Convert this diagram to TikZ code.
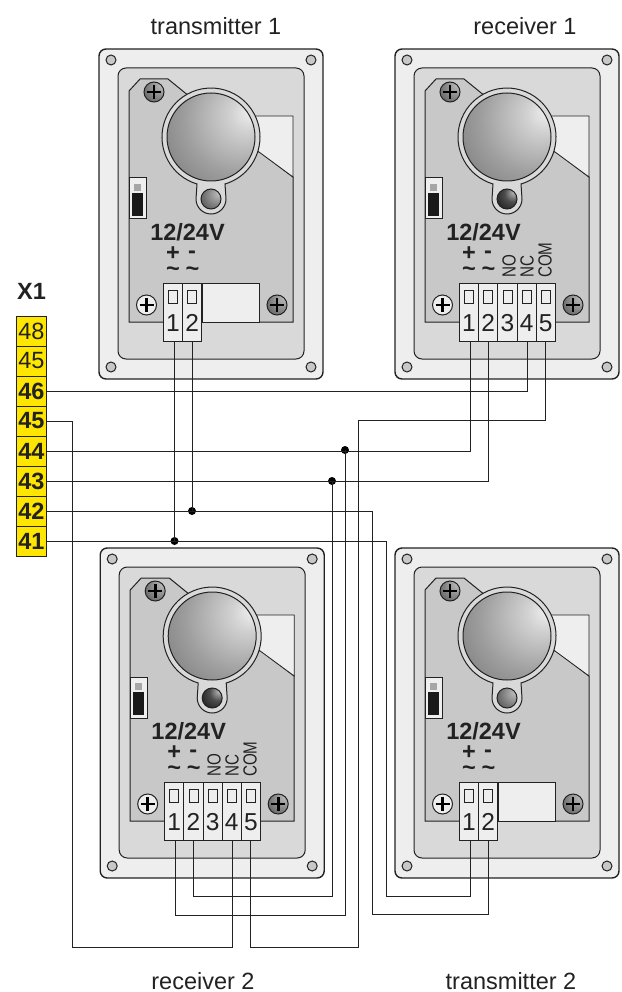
\documentclass[tikz,border=0pt]{standalone}
\usepackage{fontspec}
\setmainfont{Liberation Sans}
\pgfdeclareradialshading{domeball}{\pgfpoint{24bp}{15bp}}{color(0bp)=(white!95!black); color(10bp)=(white!82!black); color(30bp)=(white!62!black); color(50bp)=(white!46!black); color(80bp)=(white!28!black)}
\pgfdeclareradialshading{lensball}{\pgfpoint{20bp}{15bp}}{color(0bp)=(white!75!black); color(30bp)=(white!45!black); color(55bp)=(white!25!black); color(80bp)=(white!15!black)}
\pgfdeclareradialshading{lensdark}{\pgfpoint{18bp}{18bp}}{color(0bp)=(white!75!black); color(20bp)=(white!30!black); color(45bp)=(white!10!black); color(80bp)=(black)}
\pgfdeclareradialshading{screwball}{\pgfpoint{20bp}{20bp}}{color(0bp)=(white!75!black); color(35bp)=(white!45!black); color(80bp)=(white!15!black)}
\definecolor{ink}{HTML}{222222}
\definecolor{casecol}{HTML}{EEEEEE}
\definecolor{innercol}{HTML}{D9D9D9}
\definecolor{panelcol}{HTML}{C8C8C8}
\definecolor{rowcol}{HTML}{FFE600}
\tikzset{
  shell/.style={draw=ink,line width=1.4pt,rounded corners=7pt},
  thin line/.style={draw=ink,line width=1pt},
  wire/.style={draw=ink,line width=1pt},
  cell/.style={draw=ink,line width=1pt,fill=casecol,minimum width=19.2pt,minimum height=58pt,inner sep=0pt},
  txt/.style={inner sep=0pt,text=ink,font=\fontsize{23.5}{26}\selectfont},
  btxt/.style={inner sep=0pt,text=ink,font=\fontsize{23.5}{26}\selectfont\bfseries},
  small/.style={inner sep=0pt,text=ink,rotate=90,anchor=west,xscale=0.8,transform shape,font=\fontsize{19}{20}\selectfont},
  rowcell/.style={draw=ink,line width=1pt,fill=rowcol,minimum width=30pt,minimum height=30pt,inner sep=0pt,text=ink,font=\fontsize{23.5}{26}\selectfont},
  dotnode/.style={circle,fill=black,minimum size=8pt,inner sep=0pt},
}
% #1 name, #2 dx, #3 dy, #4 last terminal, #5 lens shading
\newcommand{\unitbody}[5]{%
\begin{scope}[shift={(#2,#3)}]
  \draw[shell,fill=casecol] (99,49) rectangle (323,379);
  \draw[thin line,fill=innercol,rounded corners=8pt] (118,68) rectangle (304,359);
  \foreach \hx/\hy in {111/60,311/60,111/367,311/367}
    \draw[thin line,fill=panelcol] (\hx,\hy) circle (5);
  \draw[thin line,fill=panelcol] (129,91) -- (140,79) -- (168,79) -- (200,105) -- (240,150) -- (260,152) -- (293,177) -- (293,322) -- (129,322) -- cycle;
  \draw[draw=ink,line width=0.8pt,fill=casecol] (240,116) -- (293,116) -- (293,177) -- (240,138) -- cycle;
  \draw[thin line,fill=innercol] (197,184) arc[start angle=106.6,end angle=433.4,radius=49] -- (226,199) arc[start angle=0,end angle=180,radius=15] -- cycle;
  \shade[shading=domeball] (211,137) circle (44);
  \draw[thin line] (211,137) circle (44);
  \shade[shading=#5] (211,199) circle (10);
  \draw[thin line] (211,199) circle (10);
  % top screw
  \shade[shading=screwball] (154,92) circle (10);
  \draw[thin line] (154,92) circle (10);
  \draw[line width=2.6pt,draw=black] (147,92) -- (161,92) (154,85) -- (154,99);
  % left screw
  \draw[thin line,fill=casecol] (146.5,305) circle (10);
  \draw[line width=2.6pt,draw=black] (139.5,305) -- (153.5,305) (146.5,298) -- (146.5,312);
  % right screw
  \shade[shading=screwball] (277,305) circle (10);
  \draw[thin line] (277,305) circle (10);
  \draw[line width=2.6pt,draw=black] (270,305) -- (284,305) (277,298) -- (277,312);
  % switch
  \draw[draw=ink,line width=1pt,fill=casecol] (129,178) rectangle (146,219);
  \fill[black!90] (132,193) rectangle (143,216);
  \fill[black!35] (134,184) rectangle (141,191);
  % labels
  \node[btxt] (#1-volt) at (187.5,232) {12/24V};
  \node[btxt] (#1-plus) at (173,254) {+};
  \node[btxt] (#1-minus) at (192,255) {-};
  \node[btxt] (#1-ta) at (173,272) {\textasciitilde};
  \node[btxt] (#1-tb) at (192.5,272) {\textasciitilde};
  % terminals
  \foreach \i in {1,...,#4} {
    \node[cell] (#1-cell\i) at ({163.4+19.2*(\i-0.5)},312.5) {};
    \draw[draw=ink,line width=0.8pt,fill=casecol] ({163.4+19.2*(\i-0.5)-4.5},290) rectangle ({163.4+19.2*(\i-0.5)+4.5},303);
    \node[txt,font=\fontsize{24.5}{26}\selectfont] (#1-num\i) at ({163.4+19.2*(\i-0.5)},323) {\i};
  }
  \coordinate (#1-p1) at (174.5,341);
  \coordinate (#1-p2) at (192,341);
  \coordinate (#1-p4) at (231.7,341);
  \coordinate (#1-p5) at (249,341);
\end{scope}}
\newcommand{\txextra}[3]{%
\begin{scope}[shift={(#2,#3)}]
  \draw[draw=ink,line width=1pt,fill=casecol] (#1-cell2.north east) rectangle (259,322);
\end{scope}}
\newcommand{\rxlabels}[3]{%
\begin{scope}[shift={(#2,#3)}]
  \node[small] (#1-no) at (213,278) {NO};
  \node[small] (#1-nc) at (231,278) {NC};
  \node[small] (#1-com) at (249,278) {COM};
\end{scope}}
\begin{document}
\begin{tikzpicture}[x=1pt,y=-1pt]
\useasboundingbox (0,0) rectangle (621,992);
\unitbody{txa}{0}{0}{2}{lensball}
\txextra{txa}{0}{0}
\unitbody{rxa}{296}{0}{5}{lensdark}
\rxlabels{rxa}{296}{0}
\unitbody{rxb}{1.2}{499}{5}{lensdark}
\rxlabels{rxb}{1.2}{499}
\unitbody{txb}{296}{499}{2}{lensball}
\txextra{txb}{296}{499}
\node[txt] (ltxa) at (216,26) {transmitter 1};
\node[txt] (lrxa) at (525,26) {receiver 1};
\node[txt] (lrxb) at (203,981) {receiver 2};
\node[txt] (ltxb) at (511,981) {transmitter 2};
\node[btxt] (xone) at (31.5,291) {X1};
\node[rowcell] (x48) at (31.5,331) {48};
\node[rowcell] (x45a) at (31.5,361) {45};
\node[rowcell,font=\fontsize{23.5}{26}\selectfont\bfseries] (x46) at (31.5,391) {46};
\node[rowcell,font=\fontsize{23.5}{26}\selectfont\bfseries] (x45b) at (31.5,421) {45};
\node[rowcell,font=\fontsize{23.5}{26}\selectfont\bfseries] (x44) at (31.5,451) {44};
\node[rowcell,font=\fontsize{23.5}{26}\selectfont\bfseries] (x43) at (31.5,481) {43};
\node[rowcell,font=\fontsize{23.5}{26}\selectfont\bfseries] (x42) at (31.5,511) {42};
\node[rowcell,font=\fontsize{23.5}{26}\selectfont\bfseries] (x41) at (31.5,541) {41};
\coordinate (wa) at (72,947);
\coordinate (wb) at (345,915);
\coordinate (wc) at (332,896);
\coordinate (wd) at (372,914);
\coordinate (we) at (386.5,896);
\coordinate (wf) at (358,420);
\coordinate (wg) at (358,947);
\node[dotnode] (d44) at (345,450) {};
\node[dotnode] (d43) at (332,481) {};
\node[dotnode] (d42) at (txa-p2 |- x42.east) {};
\node[dotnode] (d41) at (txa-p1 |- x41.east) {};
\draw[wire] (x46.east) -| (rxa-p4);
\draw[wire] (x45b.east) -| (wa) -| (rxb-p4);
\draw[wire] (x44.east) -| (rxa-p1);
\draw[wire] (d44.center) -- (wb) -| (rxb-p1);
\draw[wire] (x43.east) -| (rxa-p2);
\draw[wire] (d43.center) -- (wc) -| (rxb-p2);
\draw[wire] (x42.east) -| (wd) -| (txb-p2);
\draw[wire] (txa-p2) -- (d42.center);
\draw[wire] (x41.east) -| (we) -| (txb-p1);
\draw[wire] (txa-p1) -- (d41.center);
\draw[wire] (rxa-p5) |- (wf) -- (wg) -| (rxb-p5);
\end{tikzpicture}
\end{document}
